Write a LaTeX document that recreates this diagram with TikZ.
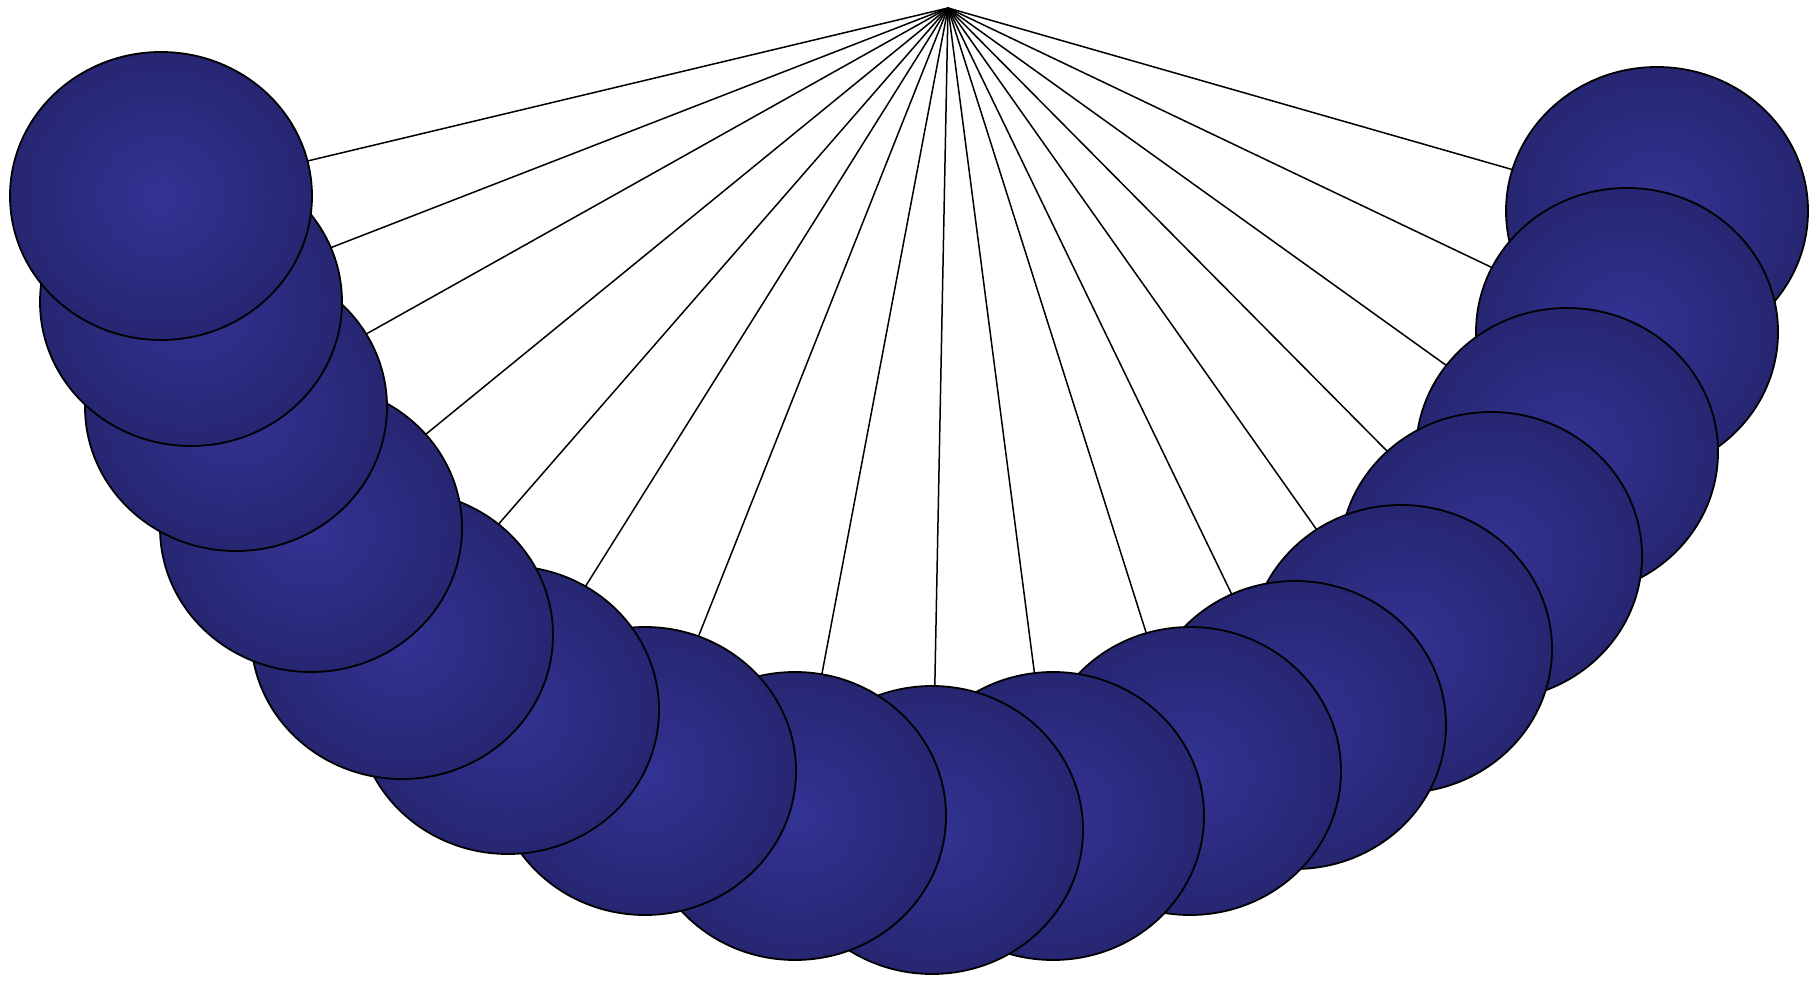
\documentclass[tikz,border=0pt]{standalone}
\usepackage{tikz}
\usetikzlibrary{shapes.geometric, backgrounds}

\definecolor{ballin}{RGB}{51,51,148}
\definecolor{ballout}{RGB}{38,38,114}

\begin{document}
\begin{tikzpicture}[
      x=1pt, y=-1pt,
      ball/.style={ellipse, draw=black, line width=1.8pt, minimum width=302pt, minimum height=288pt,
                   inner color=ballin, outer color=ballout},
      string/.style={line width=1.5pt}
    ]
    \useasboundingbox (0,0) rectangle (1820,981);
    \coordinate (pivot) at (948,8);

    \node[ball] (b17) at (1657,211) {};
    \node[ball] (b16) at (1627,332) {};
    \node[ball] (b15) at (1567,452) {};
    \node[ball] (b14) at (1491,556) {};
    \node[ball] (b13) at (1401,649) {};
    \node[ball] (b12) at (1295,725) {};
    \node[ball] (b11) at (1190,771) {};
    \node[ball] (b10) at (1053,816) {};
    \node[ball] (b9) at (932,830) {};
    \node[ball] (b8) at (795,816) {};
    \node[ball] (b7) at (645,771) {};
    \node[ball] (b6) at (508,710) {};
    \node[ball] (b5) at (402,635) {};
    \node[ball] (b4) at (311,528) {};
    \node[ball] (b3) at (236,407) {};
    \node[ball] (b2) at (191,302) {};
    \node[ball] (b1) at (161,196) {};

    \begin{scope}[on background layer]
      \foreach \i in {1,...,17}
        \draw[string] (pivot) -- (b\i.center);
    \end{scope}
  \end{tikzpicture}
\end{document}
